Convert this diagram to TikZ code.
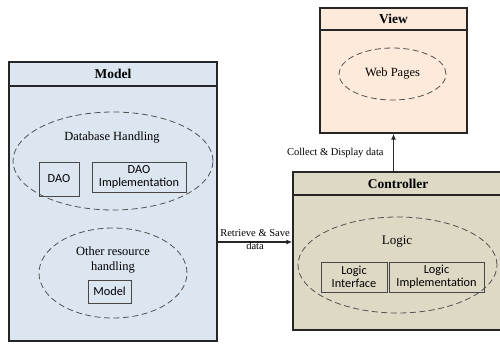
\documentclass[tikz,border=0pt]{standalone}
\usepackage{fontspec}
\setmainfont{Liberation Serif}
\newfontfamily\boxfont{Carlito}
\usetikzlibrary{arrows.meta, positioning, shapes.geometric}

\definecolor{modelblue}{RGB}{220,230,241}
\definecolor{viewpeach}{RGB}{253,234,218}
\definecolor{ctrltan}{RGB}{221,217,196}
\definecolor{edgegray}{RGB}{38,38,38}

\tikzset{
  panel/.style={draw=edgegray, line width=1.4pt, inner sep=0pt},
  titlebar/.style={draw=edgegray, line width=1.4pt, inner sep=0pt, font=\fontsize{13.5}{15}\selectfont\bfseries},
  group/.style={ellipse, draw=edgegray!80, line width=0.8pt, dash pattern=on 6pt off 3.5pt, inner sep=0pt},
  part/.style={draw=edgegray!85, line width=0.8pt, font=\boxfont\fontsize{12.3}{13.5}\selectfont, align=center, inner sep=0pt},
  grouplabel/.style={font=\fontsize{12.5}{14}\selectfont, align=center},
  flow/.style={draw=edgegray, line width=1.2pt, -{Latex[length=6pt,width=5pt]}},
  flowlabel/.style={font=\fontsize{10.5}{13}\selectfont, align=center}
}

\begin{document}
\begin{tikzpicture}[x=1pt, y=-1pt]
\useasboundingbox (0,0) rectangle (500,343);

% Model
\node[panel, fill=modelblue, minimum width=208pt, minimum height=279pt] (model) at (113,201.5) {};
\node[titlebar, minimum width=208pt, minimum height=24pt, anchor=north] (modeltitle) at (model.north) {Model};
\node[group, minimum width=200pt, minimum height=98pt] (dbgroup) at (113,161) {};
\node[grouplabel] (dblabel) at (112,138) {Database Handling};
\node[part, minimum width=40pt, minimum height=34pt] (dao) at (59,179) {DAO};
\node[part, minimum width=94pt, minimum height=30pt] (daoimpl) at (139,177) {DAO\\Implementation};
\node[group, minimum width=148pt, minimum height=90pt] (resgroup) at (113,273) {};
\node[grouplabel, font=\fontsize{12.5}{15}\selectfont] (reslabel) at (113,260) {Other resource\\handling};
\node[part, minimum width=43pt, minimum height=23pt] (modelpart) at (109.5,291.5) {Model};

% View
\node[panel, fill=viewpeach, minimum width=147pt, minimum height=125pt] (view) at (393.5,70.5) {};
\node[titlebar, minimum width=147pt, minimum height=22pt, anchor=north] (viewtitle) at (view.north) {View};
\node[group, minimum width=107pt, minimum height=52pt, font=\fontsize{12.5}{14}\selectfont] (pages) at (392.5,74) {Web Pages};

% Controller
\node[panel, fill=ctrltan, minimum width=210pt, minimum height=158pt] (controller) at (398,251) {};
\node[titlebar, minimum width=210pt, minimum height=23pt, anchor=north] (ctrltitle) at (controller.north) {Controller};
\node[group, minimum width=199pt, minimum height=96pt] (logicgroup) at (397.5,265) {};
\node[grouplabel, font=\fontsize{13}{15}\selectfont] (logiclabel) at (397,242) {Logic};
\node[part, minimum width=66pt, minimum height=30pt] (logicif) at (354,277) {Logic\\Interface};
\node[part, minimum width=95pt, minimum height=30pt] (logicimpl) at (436.5,277) {Logic\\Implementation};

% Connectors
\draw[flow] (model.east |- logiclabel) -- node[flowlabel, yshift=2pt] {Retrieve \& Save\\data} (controller.west |- logiclabel);
\draw[flow] (view.south |- controller.north) -- node[flowlabel, left=6pt] {Collect \& Display data} (view.south);

\end{tikzpicture}
\end{document}
